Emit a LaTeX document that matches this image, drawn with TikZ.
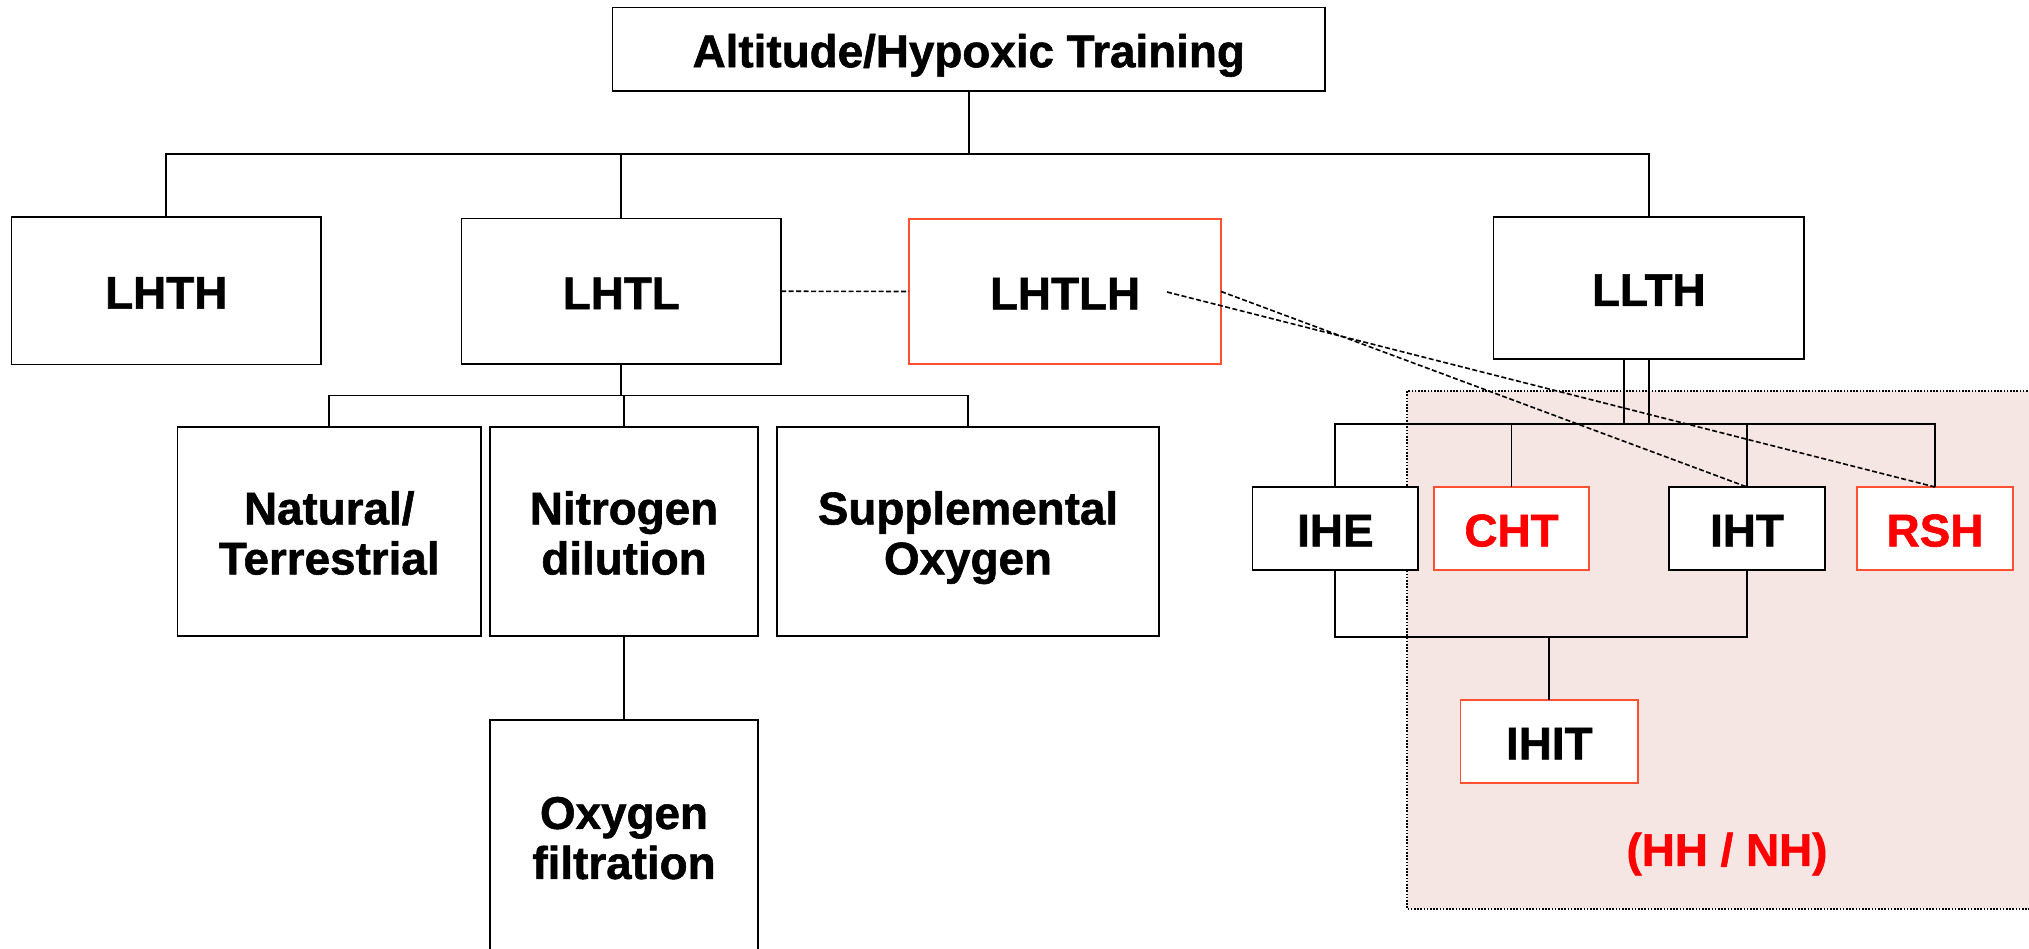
\documentclass[tikz,border=0pt]{standalone}
\usepackage{fontspec}
\setmainfont{Liberation Sans}[BoldFeatures={FakeBold=1.2}]
\definecolor{boxred}{RGB}{255,80,50}
\definecolor{shadepink}{RGB}{245,229,227}
\definecolor{txtred}{RGB}{255,0,0}
\begin{document}
\begin{tikzpicture}[x=1pt,y=-1pt,
  lbl/.style={align=center, font=\fontsize{45.8}{50}\selectfont\bfseries,
    text height=35.8pt, text depth=0pt},
  two/.style={text height=85.8pt, text depth=0pt},
  box/.style={lbl, draw=black, line width=1.4pt, fill=white, inner sep=0pt, outer sep=0pt},
  redbox/.style={box, draw=boxred},
  conn/.style={draw=black, line width=1.9pt},
  dline/.style={draw=black, line width=1.6pt, dash pattern=on 5pt off 2.5pt},
  dotline/.style={draw=black, line width=1.6pt, dash pattern=on 1.6pt off 1.6pt}]
\useasboundingbox (0,0) rectangle (2029,949);
\clip (0,0) rectangle (2029,949);
% shaded region
\path[fill=shadepink] (1407,391) rectangle (2050,909);
\draw[dotline] (2050,391) -- (1407,391) -- (1407,909) -- (2050,909);
% boxes
\node[box, minimum width=712.5pt, minimum height=83.5pt] (top) at (968.75,49.25) {Altitude/Hypoxic Training};
\node[box, minimum width=309.5pt, minimum height=147.5pt] (LHTH) at (166.25,290.75) {LHTH};
\node[box, minimum width=319.5pt, minimum height=145.5pt] (LHTL) at (621.25,291.25) {LHTL};
\node[redbox, minimum width=312pt, minimum height=145pt] (LHTLH) at (1065,291.5) {LHTLH};
\node[box, minimum width=310.5pt, minimum height=142pt] (LLTH) at (1648.75,288) {LLTH};
\node[box, two, minimum width=303.5pt, minimum height=209pt] (NAT) at (329.25,531.5) {Natural/\\Terrestrial};
\node[box, two, minimum width=268pt, minimum height=209pt] (NIT) at (624,531.5) {Nitrogen\\dilution};
\node[box, two, minimum width=382pt, minimum height=209pt] (SUP) at (968,531.5) {Supplemental\\Oxygen};
\node[box, two, minimum width=268pt, minimum height=232pt] (OXF) at (624,836) {Oxygen\\filtration};
\node[box, minimum width=165.3pt, minimum height=83pt] (IHE) at (1335.35,528.5) {IHE};
\node[redbox, minimum width=155pt, minimum height=83pt, text=txtred] (CHT) at (1511.5,528.5) {CHT};
\node[box, minimum width=156pt, minimum height=83pt] (IHT) at (1747,528.5) {IHT};
\node[redbox, minimum width=156pt, minimum height=83pt, text=txtred] (RSH) at (1935,528.5) {RSH};
\node[redbox, minimum width=177.5pt, minimum height=83pt] (IHIT) at (1549.25,741.5) {IHIT};
\node[lbl, text=txtred, inner sep=0pt] (HN) at (1727,848) {(HH / NH)};
% bus coordinates
\coordinate (bA) at (0,154.3);
\coordinate (bB) at (0,395.5);
\coordinate (bC) at (0,424.3);
\coordinate (bD) at (0,637);
% connectors level 1
\draw[conn] (top.south) -- (top.south |- bA);
\draw[conn] (LHTH.north) -- (LHTH.north |- bA) -- (LLTH.north |- bA) -- (LLTH.north);
\draw[conn] (LHTL.north) -- (LHTL.north |- bA);
% LHTL children
\draw[conn] (LHTL.south) -- (LHTL.south |- bB);
\draw[conn] (NAT.north) -- (NAT.north |- bB) -- (SUP.north |- bB) -- (SUP.north);
\draw[conn] (NIT.north) -- (NIT.north |- bB);
\draw[conn] (NIT.south) -- (OXF.north);
% LLTH children
\draw[conn] (LLTH.south) -- (LLTH.south |- bC);
\draw[conn] ([xshift=-24.5pt]LLTH.south) -- ([xshift=-24.5pt]LLTH.south |- bC);
\draw[conn] (IHE.north) -- (IHE.north |- bC) -- (RSH.north |- bC) -- (RSH.north);
\draw[conn] (CHT.north) -- (CHT.north |- bC);
\draw[conn] (IHT.north) -- (IHT.north |- bC);
% IHE/IHT -> IHIT
\draw[conn] (IHE.south) -- (IHE.south |- bD) -- (IHT.south |- bD) -- (IHT.south);
\draw[conn] (IHIT.north) -- (IHIT.north |- bD);
% dashed links
\coordinate (lt) at (1167,292);
\draw[dline] (LHTL.east) -- (LHTLH.west);
\draw[dline] (lt) -- (RSH.north);
\draw[dline] (LHTLH.east) -- (IHT.north);
\end{tikzpicture}
\end{document}
